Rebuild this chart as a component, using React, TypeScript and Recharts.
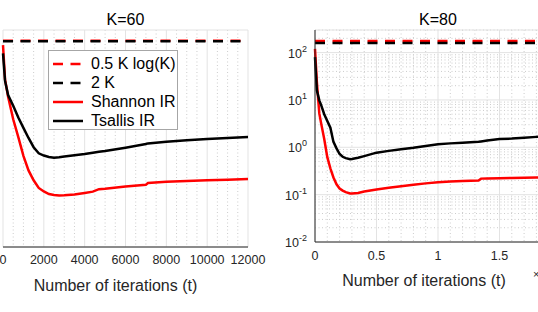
import { LineChart, Line, XAxis, YAxis, CartesianGrid, Legend, Label } from 'recharts';

const FONT = '"Liberation Sans", Arial, Helvetica, sans-serif';
const INK = '#262626';

// K = 60 panel (iterations t)
const T_K60 = [0, 100, 250, 500, 750, 1000, 1250, 1500, 1750, 2000, 2250, 2500, 2750, 3000, 3500, 4000, 4400, 4700, 5000, 6000, 7000, 7100, 8000, 9000, 10000, 11000, 12000];
const SHANNON_K60 = [100, 21, 9.5, 3.4, 1.5, 0.64, 0.33, 0.21, 0.148, 0.126, 0.112, 0.107, 0.105, 0.106, 0.11, 0.118, 0.125, 0.14, 0.143, 0.158, 0.172, 0.185, 0.196, 0.203, 0.21, 0.216, 0.222];
const TSALLIS_K60 = [69, 19.6, 10.3, 6.3, 3.7, 2.3, 1.45, 0.95, 0.72, 0.65, 0.61, 0.59, 0.6, 0.62, 0.66, 0.7, 0.74, 0.77, 0.8, 0.93, 1.1, 1.13, 1.22, 1.3, 1.38, 1.45, 1.51];
const HALF_KLOGK_K60 = 122.8;
const TWO_K_K60 = 120;
const XTICKS_K60 = [0, 2000, 4000, 6000, 8000, 10000, 12000];

// K = 80 panel (iterations t, axis shown in units of 10^4)
const T_K80 = [0, 150, 350, 500, 750, 1000, 1250, 1500, 1750, 2000, 2250, 2500, 2850, 3000, 3500, 4000, 5000, 6000, 7000, 8000, 9000, 10000, 11000, 12000, 13300, 13500, 14000, 15000, 16000, 17000, 18000, 20000];
const SHANNON_K80 = [120, 24, 5.2, 3.2, 1.5, 0.62, 0.36, 0.23, 0.165, 0.135, 0.122, 0.113, 0.106, 0.106, 0.108, 0.116, 0.129, 0.14, 0.151, 0.162, 0.173, 0.183, 0.19, 0.195, 0.2, 0.218, 0.22, 0.222, 0.225, 0.228, 0.231, 0.236];
const TSALLIS_K80 = [80, 16, 9.8, 7.8, 5.0, 3.6, 2.6, 1.3, 0.95, 0.72, 0.63, 0.59, 0.56, 0.565, 0.6, 0.65, 0.77, 0.84, 0.91, 0.98, 1.07, 1.16, 1.21, 1.25, 1.31, 1.33, 1.39, 1.49, 1.53, 1.6, 1.66, 1.75];
const HALF_KLOGK_K80 = 175.3;
const TWO_K_K80 = 160;
const XTICKS_K80 = [0, 5000, 10000, 15000, 20000];

const YTICKS = [0.01, 0.1, 1, 10, 100];

const LEGEND_NAMES = ['0.5 K log(K)', '2 K', 'Shannon IR', 'Tsallis IR'];

function makeRows(t: number[], shannon: number[], tsallis: number[], half: number, twoK: number) {
  return t.map((v, i) => ({ t: v, shannon: shannon[i], tsallis: tsallis[i], half, twoK }));
}

function minorY(max: number) {
  const out: number[] = [];
  for (let k = -2; k <= 2; k++) {
    for (let m = 2; m <= 9; m++) {
      const v = m * Math.pow(10, k);
      if (v <= max) out.push(v);
    }
  }
  return out;
}

function minorX(step: number, major: number, max: number) {
  const out: number[] = [];
  for (let v = step; v < max; v += step) if (v % major !== 0) out.push(v);
  return out;
}

const LogTick = (props: any) => {
  const { x, y, payload } = props;
  const e = Math.round(Math.log10(payload.value));
  return (
    <text x={x} y={y} textAnchor='end' fill={INK} fontFamily={FONT} fontSize={12.5}>
      <tspan dy='0.4em'>10</tspan>
      <tspan dy='-0.65em' fontSize={9}>{e}</tspan>
    </text>
  );
};

const LegendBox = (props: any) => {
  const payload = props.payload || [];
  return (
    <div
      style={{
        width: 130,
        height: 80,
        boxSizing: 'border-box',
        border: '1px solid #a6a6a6',
        background: '#fff',
        padding: '3px 0 0 4px',
        fontFamily: FONT,
        fontSize: 16,
        color: '#000',
      }}>
      {payload.map((p: any) => {
        const dashed = p.value === LEGEND_NAMES[0] || p.value === LEGEND_NAMES[1];
        return (
          <div key={p.value} style={{ height: 19, display: 'flex', alignItems: 'center' }}>
            <svg width={30} height={6} style={{ display: 'block' }}>
              <line x1={0} x2={30} y1={3} y2={3} stroke={p.color} strokeWidth={2.5} strokeDasharray={dashed ? '10 7.5' : undefined} />
            </svg>
            <span style={{ marginLeft: 8, lineHeight: '19px', whiteSpace: 'nowrap' }}>{p.value}</span>
          </div>
        );
      })}
    </div>
  );
};

function Panel(props: any) {
  const { rows, title, left, width, margin, yWidth, yMax, xTicks, xMax, minorStep, majorStep, xFormat, showLegend, labelShift, tickMargin, showExp } = props;
  const plotLeft = left + margin.left + yWidth;
  const plotWidth = width - margin.left - margin.right - yWidth;
  return (
    <div style={{ position: 'absolute', left, top: 0, width, height: 312 }}>
      <div
        style={{
          position: 'absolute',
          left: plotLeft - left,
          width: plotWidth,
          top: 10,
          lineHeight: '20px',
          textAlign: 'center',
          fontFamily: FONT,
          fontSize: 16,
          color: '#000',
        }}>
        {title}
      </div>
      <LineChart width={width} height={312} data={rows} margin={margin}>
        <CartesianGrid
          horizontal
          vertical
          horizontalValues={minorY(yMax)}
          verticalValues={minorX(minorStep, majorStep, xMax)}
          stroke='#cccccc'
          strokeDasharray='1 2.5'
        />
        <CartesianGrid stroke='#e3e3e3' />
        <XAxis
          dataKey='t'
          type='number'
          domain={[0, xMax]}
          ticks={xTicks}
          interval={0}
          height={30}
          tickLine={false}
          tickMargin={tickMargin}
          axisLine={{ stroke: INK }}
          tick={{ fill: INK, fontSize: 12.5, fontFamily: FONT }}
          tickFormatter={xFormat}>
          <Label
            content={(p: any) => {
              const vb = p.viewBox;
              return (
                <text x={vb.x + vb.width / 2 + labelShift} y={vb.y + 43.5} textAnchor='middle' fill={INK} fontFamily={FONT} fontSize={16}>
                  Number of iterations (t)
                </text>
              );
            }}
          />
          {showExp && (
            <Label
              content={(p: any) => {
                const vb = p.viewBox;
                return (
                  <text x={vb.x + vb.width - 28} y={vb.y + 36} fill={INK} fontFamily={FONT} fontSize={11}>
                    <tspan>×10</tspan>
                    <tspan dy='-0.6em' fontSize={8}>4</tspan>
                  </text>
                );
              }}
            />
          )}
        </XAxis>
        <YAxis
          scale='log'
          type='number'
          domain={[0.01, yMax]}
          ticks={YTICKS}
          interval={0}
          width={yWidth}
          allowDataOverflow
          tickLine={false}
          axisLine={{ stroke: INK }}
          tick={yWidth > 0 ? <LogTick /> : false}
        />
        {showLegend && (
          <Legend
            layout='vertical'
            align='center'
            verticalAlign='middle'
            content={<LegendBox />}
            wrapperStyle={{ left: 48, top: 50, width: 130, height: 80 }}
          />
        )}
        <Line name={LEGEND_NAMES[0]} dataKey='half' stroke='#ff0000' strokeWidth={2.5} strokeDasharray='10 7.5' dot={false} type='linear' isAnimationActive={false} />
        <Line name={LEGEND_NAMES[1]} dataKey='twoK' stroke='#000000' strokeWidth={2.5} strokeDasharray='10 7.5' dot={false} type='linear' isAnimationActive={false} />
        <Line name={LEGEND_NAMES[2]} dataKey='shannon' stroke='#ff0000' strokeWidth={2.5} dot={false} type='linear' isAnimationActive={false} />
        <Line name={LEGEND_NAMES[3]} dataKey='tsallis' stroke='#000000' strokeWidth={2.5} dot={false} type='linear' isAnimationActive={false} />
      </LineChart>
    </div>
  );
}

export default function App() {
  const rows60 = makeRows(T_K60, SHANNON_K60, TSALLIS_K60, HALF_KLOGK_K60, TWO_K_K60);
  const rows80 = makeRows(T_K80, SHANNON_K80, TSALLIS_K80, HALF_KLOGK_K80, TWO_K_K80);
  return (
    <div style={{ position: 'absolute', left: 0, top: 0, width: 538, height: 312, overflow: 'hidden', background: '#fff' }}>
      <Panel
        rows={rows60}
        title='K=60'
        left={0}
        width={272}
        margin={{ top: 30, right: 24, left: 3, bottom: 35 }}
        yWidth={0}
        yMax={200}
        xTicks={XTICKS_K60}
        xMax={12000}
        minorStep={500}
        majorStep={2000}
        xFormat={(v: number) => String(v)}
        showLegend
        labelShift={-10}
        tickMargin={2}
        showExp={false}
      />
      <Panel
        rows={rows80}
        title='K=80'
        left={268}
        width={300}
        margin={{ top: 30, right: 7, left: 0, bottom: 40 }}
        yWidth={47}
        yMax={300}
        xTicks={XTICKS_K80}
        xMax={20000}
        minorStep={1000}
        majorStep={5000}
        xFormat={(v: number) => String(v / 10000)}
        showLegend={false}
        labelShift={-14}
        tickMargin={3}
        showExp
      />
    </div>
  );
}
